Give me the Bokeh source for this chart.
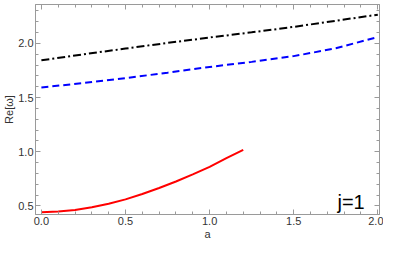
from bokeh.plotting import figure
from bokeh.models import (Range1d, LinearAxis, SingleIntervalTicker, Label,
                          PrintfTickFormatter, CustomLabelingPolicy)
from bokeh.embed import file_html
from bokeh.resources import INLINE

# ---- data ----
a_upper = [0.0, 0.25, 0.5, 0.75, 1.0, 1.25, 1.5, 1.75, 2.0]
re_black = [1.844, 1.900, 1.953, 2.005, 2.055, 2.103, 2.153, 2.210, 2.266]
re_blue = [1.593, 1.635, 1.680, 1.730, 1.783, 1.830, 1.883, 1.955, 2.060]

a_red = [0.0, 0.1, 0.2, 0.3, 0.4, 0.5, 0.6, 0.7, 0.8, 0.9, 1.0, 1.1, 1.2]
re_red = [0.441, 0.448, 0.462, 0.487, 0.520, 0.560, 0.610, 0.665, 0.725, 0.790, 0.860, 0.940, 1.017]

x_label = "a"
y_label = "Re[\u03c9]"
annotation = "j=1"

FONT = "Liberation Sans"
AXIS_COLOR = "#9a9a9a"
LABEL_COLOR = "#333333"

p = figure(width=383, height=242, output_backend="svg", toolbar_location=None,
           x_range=Range1d(-0.035, 2.01), y_range=Range1d(0.42, 2.36),
           min_border_left=0, min_border_right=0, min_border_top=0, min_border_bottom=0)
p.grid.visible = False
p.outline_line_color = AXIS_COLOR
p.background_fill_color = "white"
p.border_fill_color = "white"

hide_all = "for (const i of indices) { indices.unset(i) }\nreturn indices"


def style_axis(ax, labels=True):
    ax.ticker = SingleIntervalTicker(interval=0.5, num_minor_ticks=5)
    ax.formatter = PrintfTickFormatter(format="%.1f")
    ax.axis_line_color = AXIS_COLOR
    ax.major_tick_line_color = AXIS_COLOR
    ax.minor_tick_line_color = AXIS_COLOR
    ax.major_tick_in = 5
    ax.major_tick_out = 0
    ax.minor_tick_in = 3
    ax.minor_tick_out = 0
    if labels:
        ax.major_label_text_font = FONT
        ax.major_label_text_font_size = "11px"
        ax.major_label_text_color = LABEL_COLOR
        ax.major_label_standoff = 2
        ax.axis_label_text_font = FONT
        ax.axis_label_text_font_size = "11px"
        ax.axis_label_text_font_style = "normal"
        ax.axis_label_text_color = LABEL_COLOR
        ax.axis_label_standoff = 0
    else:
        ax.major_label_text_font_size = "1px"
        ax.major_label_policy = CustomLabelingPolicy(code=hide_all)
        ax.major_label_standoff = 0


style_axis(p.xaxis[0])
style_axis(p.yaxis[0])
p.xaxis[0].axis_label = x_label
p.yaxis[0].axis_label = y_label

top_axis = LinearAxis()
right_axis = LinearAxis()
style_axis(top_axis, labels=False)
style_axis(right_axis, labels=False)
p.add_layout(top_axis, "above")
p.add_layout(right_axis, "right")

p.line(a_upper, re_black, line_color="black", line_width=2, line_dash="8 3 2 3")
p.line(a_upper, re_blue, line_color="#0000ff", line_width=2, line_dash="7 4")
p.line(a_red, re_red, line_color="#ff0000", line_width=2)

p.add_layout(Label(x=1.76, y=0.535, text=annotation, text_font=FONT,
                   text_font_size="20px", text_color="black", text_baseline="alphabetic"))

open("out.html", "w").write(file_html(p, INLINE))
